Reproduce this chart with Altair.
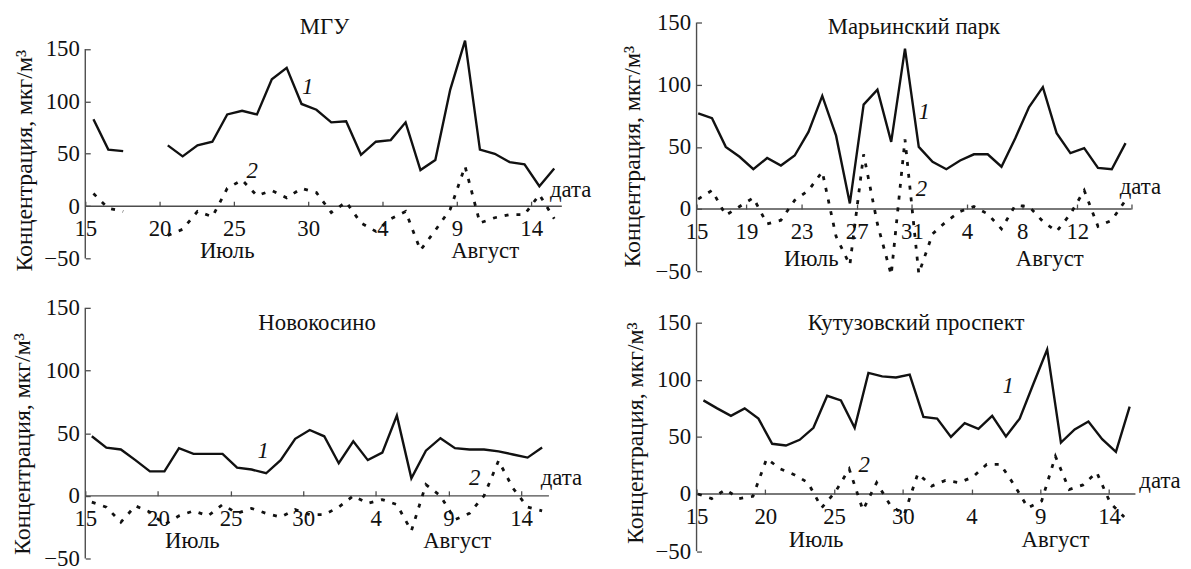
import json
import altair as alt
import pandas as pd

FONT = "Liberation Serif"
FS = 23
FS_TITLE = 24
INK = "#111111"
AXIS_COLOR = "#4d4d4d"

Y_TITLE = "Концентрация, мкг/м³"
Y_TICKS = [-50, 0, 50, 100, 150]
JUL = "Июль"
AUG = "Август"
DATE = "дата"

# x tick labels (day of month); positions are days counted from 15 July
TICKS_5 = [0, 5, 10, 15, 20, 25, 30]
LABELS_5 = ["15", "20", "25", "30", "4", "9", "14"]
TICKS_4 = [0, 4, 8, 12, 16, 20, 24, 28]
LABELS_4 = ["15", "19", "23", "27", "31", "4", "8", "12"]

# daily values, 15 July ... 15 August (curve 1 solid, curve 2 dashed)
MGU_1 = [83, 54, 52.5, None, None, 58, 47.5, 58, 61.5, 87.5, 91, 87.5, 121, 132, 97.5, 92,
         80, 81, 49, 61.5, 63, 80, 34.5, 44, 111, 158, 54, 50, 42, 40, 19, 36]
MGU_2 = [12, -2, -5, None, None, -28, -22, -5, -10, 17, 25, 10, 15, 8, 17, 13,
         -6, 4, -16, -24, -12, -5, -42, -23, -3, 38, -16, -11, -8, -8, 11, -12]
MAR_1 = [77, 73, 50, 42, 32, 41, 35, 43, 62, 91, 59, 4.5, 84, 96, 54, 129,
         50, 38, 32, 39, 44, 44, 34, 57, 82, 98, 61, 45, 49, 33, 32, 53]
MAR_2 = [8, 15, -5, 2, 9, -12, -9, 7, 15, 30, -22, -45, 44, -12, -53, 56,
         -52, -20, -10, -2, 2, -4, -16, 3, 2, -10, -18, -4, 15, -14, -9, 7]
NOV_1 = [47.5, 38.5, 37, 28.5, 19.5, 19.5, 38, 33.5, 33.5, 33.5, 22.5, 21, 18, 28.5, 45.5, 52.5,
         47.5, 26, 43.5, 28.5, 34.5, 64, 14, 36, 46, 38, 37, 37, 35.5, 33, 30.5, 38.5]
NOV_2 = [-5, -9, -21, -8, -13, -23, -16, -12, -16, -7, -14, -10, -14, -17, -11, -15,
         -15, -9, 0, -6, -3, -7, -28, 9, 0, -19, -14, 0, 28, 6, -9, -12]
KUT_1 = [82, 75, 68.5, 75, 66, 44, 42.5, 47.5, 58, 86, 82, 58, 106, 103, 102, 104.5,
         67.5, 66, 50, 62, 57, 68.5, 50.5, 66, 96.5, 126.5, 45, 56.5, 63.5, 48, 37, 76.5]
KUT_2 = [0, -4, 4, -4, -2, 31, 22, 17, 10, -12, 2, 22, -14, 10, -10, -18,
         18, 7, 12, 10, 15, 26, 26, 8, -12, -6, 33, 4, 8, 19, -8, -20]

TITLES = ["МГУ", "Марьинский парк", "Новокосино", "Кутузовский проспект"]

# layout of each panel (sizes, domains, annotation anchors)
LAYOUT = [
    dict(W=481, H=251, xdom=[0, 32.06], ydom=[-62, 175.2], s1=0.55, s2=0.55,
         ticks=TICKS_5, labels=LABELS_5, marks=TICKS_5, ytx=-61, yty=139,
         ann=[(TITLES[0], 16.1, 164, "c"), ("1", 14.96, 107, "i"), ("2", 11.23, 27, "i"),
              (DATE, 31.26, 9, "l"), (JUL, 9.55, -49, "c"), (AUG, 26.9, -49, "c")]),
    dict(W=439, H=251, xdom=[0.38, 31.93], ydom=[-50, 150], s1=0.5, s2=0.5,
         ticks=[0.38] + TICKS_4[1:], labels=LABELS_4, marks=[0.38] + TICKS_4[1:] + [31.93],
         ytx=-65, yty=135,
         ann=[(TITLES[1], 16.15, 140.5, "c"), ("1", 16.9, 72, "i"), ("2", 16.7, 10.4, "i"),
              (DATE, 31.07, 12, "l"), (JUL, 8.7, -45.5, "c"), (AUG, 26.0, -45.5, "c")]),
    dict(W=468, H=253, xdom=[0, 31.92], ydom=[-50, 150], s1=0.45, s2=0.45,
         ticks=TICKS_5, labels=LABELS_5, marks=TICKS_5, ytx=-63, yty=137,
         ann=[(TITLES[2], 15.96, 132.6, "c"), ("1", 12.25, 29.8, "i"), ("2", 26.8, 8.7, "i"),
              (DATE, 31.35, 8.7, "l"), (JUL, 7.37, -41.5, "c"), (AUG, 25.6, -42, "c")]),
    dict(W=443, H=253, xdom=[0, 31.92], ydom=[-56.4, 163], s1=0.5, s2=0.1,
         ticks=TICKS_5, labels=LABELS_5, marks=TICKS_5, ytx=-62, yty=126,
         ann=[(TITLES[3], 15.97, 143.7, "c"), ("1", 22.67, 88.8, "i"), ("2", 12.2, 19.4, "i"),
              (DATE, 32.2, 5, "l"), (JUL, 8.7, -46, "c"), (AUG, 26.1, -46, "c")]),
]
SERIES = [(MGU_1, MGU_2), (MAR_1, MAR_2), (NOV_1, NOV_2), (KUT_1, KUT_2)]


def series_frame(values, shift):
    rows, seg = [], 0
    for k, v in enumerate(values):
        if v is None:
            seg += 1
            continue
        rows.append({"x": k + shift, "v": v, "seg": seg})
    return pd.DataFrame(rows)


def make_panel(solid, dashed, L):
    W, H = L["W"], L["H"]
    x0, x1 = L["xdom"]
    y0, y1 = L["ydom"]
    zero_from_bottom = H * (0 - y0) / (y1 - y0)
    xs = alt.Scale(domain=[x0, x1], nice=False, zero=False)
    ys = alt.Scale(domain=[y0, y1], nice=False, zero=False)

    lab_expr = "%s[indexof(%s, datum.value)]" % (
        json.dumps(L["labels"], ensure_ascii=False), json.dumps(L["ticks"]))
    x_lab = alt.Axis(orient="bottom", values=L["ticks"], labelExpr=lab_expr, ticks=False,
                     tickSize=0, domain=False, grid=False, labelFont=FONT, labelFontSize=FS,
                     labelColor=INK, labelPadding=12, labelFlush=False, labelOverlap=False,
                     offset=-zero_from_bottom, title=None)
    y_lab = alt.Axis(orient="left", values=Y_TICKS,
                     labelExpr="datum.value < 0 ? '−' + abs(datum.value) : '' + datum.value",
                     ticks=False, tickSize=0, domain=False, grid=False, labelFont=FONT,
                     labelFontSize=FS, labelColor=INK, labelPadding=6, labelOverlap=False,
                     title=Y_TITLE, titleFont=FONT, titleFontSize=FS_TITLE,
                     titleFontWeight="normal", titleColor=INK, titleX=L["ytx"],
                     titleY=L["yty"], titleAngle=270, titleAlign="center",
                     titleBaseline="middle")
    x_tk = alt.Axis(orient="top", values=L["marks"], labels=False, ticks=True, tickSize=5,
                    tickWidth=1.3, tickColor=AXIS_COLOR, domain=False, grid=False,
                    offset=-(H - zero_from_bottom), title=None)
    y_tk = alt.Axis(orient="right", values=Y_TICKS, labels=False, ticks=True, tickSize=5,
                    tickWidth=1.3, tickColor=AXIS_COLOR, domain=False, grid=False,
                    offset=-W, title=None)

    xline = alt.Chart(pd.DataFrame({"x": [x0], "x2": [x1], "y": [0]})).mark_rule(
        color=AXIS_COLOR, strokeWidth=1.4).encode(
        x=alt.X("x:Q", scale=xs, axis=None), x2=alt.X2("x2"),
        y=alt.Y("y:Q", scale=ys, axis=None))
    yline = alt.Chart(pd.DataFrame({"x": [x0], "y": [Y_TICKS[0]], "y2": [Y_TICKS[-1]]})).mark_rule(
        color=AXIS_COLOR, strokeWidth=1.4).encode(
        x=alt.X("x:Q", scale=xs, axis=None),
        y=alt.Y("y:Q", scale=ys, axis=None), y2=alt.Y2("y2"))

    solid_l = alt.Chart(series_frame(solid, L["s1"])).mark_line(
        color=INK, strokeWidth=2.4).encode(
        x=alt.X("x:Q", scale=xs, axis=x_lab), y=alt.Y("v:Q", scale=ys, axis=y_lab),
        detail="seg:N")
    dashed_l = alt.Chart(series_frame(dashed, L["s2"])).mark_line(
        color=INK, strokeWidth=2.8, strokeDash=[4, 8]).encode(
        x=alt.X("x:Q", scale=xs, axis=x_tk), y=alt.Y("v:Q", scale=ys, axis=y_tk),
        detail="seg:N")

    ann = pd.DataFrame(L["ann"], columns=["t", "x", "y", "kind"])

    def tl(kind, **mk):
        return alt.Chart(ann[ann.kind == kind]).mark_text(
            font=FONT, fontSize=FS, color=INK, baseline="alphabetic", **mk).encode(
            x=alt.X("x:Q", scale=xs, axis=None), y=alt.Y("y:Q", scale=ys, axis=None),
            text="t:N")

    texts = [tl("c", align="center"), tl("l", align="left"),
             tl("i", align="center", fontStyle="italic")]

    return alt.layer(xline, yline, solid_l, dashed_l, *texts).resolve_axis(
        x="independent", y="independent").properties(width=W, height=H)


panels = [make_panel(s[0], s[1], L) for s, L in zip(SERIES, LAYOUT)]
chart = alt.concat(*panels, columns=2, spacing={"row": 37, "column": 136},
                   bounds="flush").properties(
    padding={"left": 2, "top": 1, "right": 2, "bottom": 0}
).configure_view(strokeWidth=0)

chart.save("out.html", embed_options={"renderer": "svg", "actions": False})
